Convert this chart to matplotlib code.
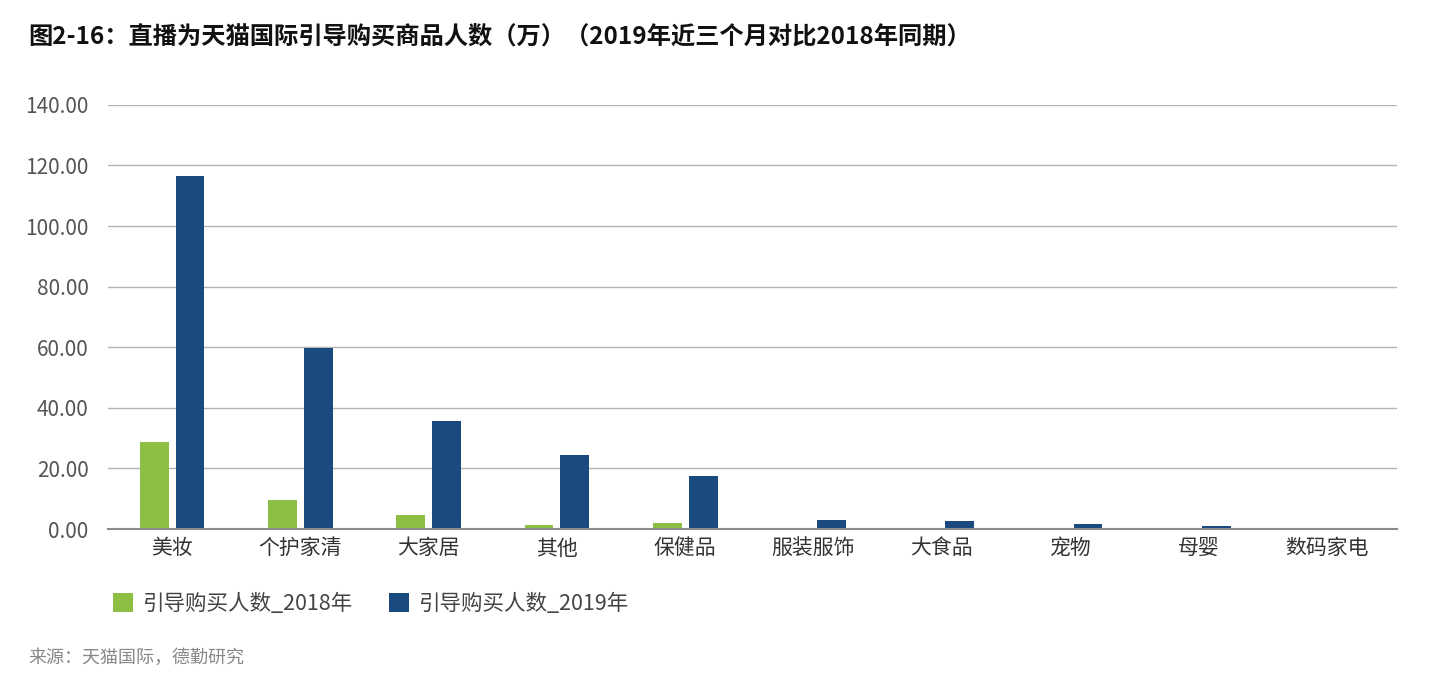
import numpy as np
import matplotlib.pyplot as plt

plt.rcParams['font.family'] = ['Noto Sans CJK SC', 'DejaVu Sans']

categories = ['美妆', '个护家清', '大家居', '其他', '保健品', '服装服饰', '大食品', '宠物', '母婴', '数码家电']
values_2018 = [28.7, 9.6, 4.6, 1.3, 2.0, 0.3, 0.3, 0.2, 0.2, 0.3]
values_2019 = [116.5, 59.7, 35.6, 24.4, 17.5, 3.0, 2.6, 1.7, 1.0, 0.4]
yticks = [0, 20, 40, 60, 80, 100, 120, 140]

green = '#8cbf44'
blue = '#1b4a80'

fig = plt.figure(figsize=(14.3, 6.9), dpi=100)
ax = fig.add_axes([0.0755, 0.2333, 0.9015, 0.6147])

x = np.arange(len(categories))
bar_width = 0.225
gap = 0.055
ax.bar(x - (bar_width + gap) / 2, values_2018, width=bar_width, color=green,
       label='引导购买人数_2018年', zorder=3)
ax.bar(x + (bar_width + gap) / 2, values_2019, width=bar_width, color=blue,
       label='引导购买人数_2019年', zorder=3)

ax.set_xlim(-0.5, len(categories) - 0.45)
ax.set_ylim(0, 140)
ax.set_yticks(yticks)
ax.set_yticklabels([f'{v:.2f}' for v in yticks], fontsize=15, color='#555555')
ax.set_xticks(x)
ax.set_xticklabels(categories, fontsize=15, color='#333333')
ax.tick_params(axis='both', length=0)
ax.tick_params(axis='x', pad=6)
ax.tick_params(axis='y', pad=14)
ax.grid(axis='y', color='#b3b3b3', linewidth=1, zorder=0)
for side in ['top', 'right', 'left']:
    ax.spines[side].set_visible(False)
ax.spines['bottom'].set_color('#8a8a8a')
ax.spines['bottom'].set_linewidth(1.5)
ax.spines['bottom'].set_zorder(4)

fig.text(0.0196, 0.945, '图2-16：直播为天猫国际引导购买商品人数（万）（2019年近三个月对比2018年同期）',
         fontsize=17.5, fontweight='bold', color='#111111', va='center')

leg = fig.legend(loc='center left', bbox_to_anchor=(0.0655, 0.125), ncol=2, frameon=False,
                 fontsize=15.5, handlelength=0.95, handleheight=0.95, handletextpad=0.4,
                 columnspacing=1.7)
for t in leg.get_texts():
    t.set_color('#444444')

fig.text(0.0196, 0.047, '来源：天猫国际，德勤研究', fontsize=13, color='#888888', va='center')

fig.savefig('out.png', dpi=100)
